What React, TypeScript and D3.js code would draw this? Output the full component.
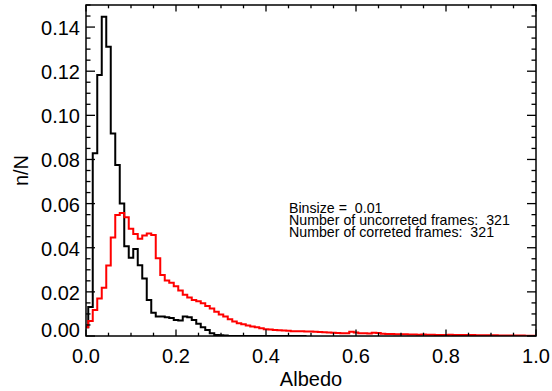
import React from "react";
import * as d3 from "d3";

const binCenters: number[] = d3.range(0, 101).map((k) => k / 100);

const uncorrected: number[] = [
  0.004, 0.0131, 0.0828, 0.1183, 0.1447, 0.1311, 0.0918, 0.0775, 0.0601, 0.0407,
  0.0355, 0.0394, 0.0321, 0.0261, 0.0163, 0.0105, 0.0088, 0.0088, 0.0085, 0.0082,
  0.0072, 0.007, 0.0088, 0.0085, 0.0072, 0.0055, 0.004, 0.0027, 0.0012, 0.0005,
  0.0003, 0.0002, 0, 0, 0, 0, 0, 0, 0, 0,
  0, 0, 0, 0, 0, 0, 0, 0, 0, 0,
];

const corrected: number[] = [
  0.004, 0.0068, 0.0118, 0.017, 0.0219, 0.0319, 0.0446, 0.0548, 0.0557, 0.0538,
  0.0486, 0.0462, 0.0441, 0.0456, 0.0465, 0.0458, 0.0352, 0.0277, 0.0252, 0.0241,
  0.0226, 0.0206, 0.0187, 0.0175, 0.0163, 0.0158, 0.0148, 0.0136, 0.0125, 0.011,
  0.0098, 0.0088, 0.0076, 0.0066, 0.0058, 0.0053, 0.0048, 0.0043, 0.004, 0.0035,
  0.0031, 0.003, 0.0027, 0.0026, 0.0025, 0.0024, 0.0022, 0.0022, 0.0021, 0.002,
  0.002, 0.0019, 0.0018, 0.0017, 0.0016, 0.0015, 0.0014, 0.0013, 0.0012, 0.0019,
  0.0016, 0.0013, 0.0012, 0.0011, 0.0015, 0.0014, 0.001, 0.0009, 0.0009, 0.0008,
  0.0008, 0.0008, 0.0007, 0.0007, 0.0006, 0.0007, 0.0006, 0.0006, 0.0005, 0.0005,
  0.0005, 0.0006, 0.0005, 0.0004, 0.0004, 0.0004, 0.0004, 0.0003, 0.0003, 0.0003,
  0.0003, 0.0003, 0.0002, 0.0002, 0.0002, 0.0002, 0.0002, 0.0002, 0.0001, 0.0001,
  0.0001,
];

const xMajorTicks: number[] = [0, 0.2, 0.4, 0.6, 0.8, 1.0];
const xMinorTicks: number[] = [0.05, 0.1, 0.15, 0.25, 0.3, 0.35, 0.45, 0.5, 0.55, 0.65, 0.7, 0.75, 0.85, 0.9, 0.95];
const yMajorTicks: number[] = [0, 0.02, 0.04, 0.06, 0.08, 0.1, 0.12, 0.14];
const yMinorStep = 0.005;

const annotations: string[] = [
  "Binsize =  0.01",
  "Number of uncorreted frames:  321",
  "Number of correted frames:  321",
];

const W = 552;
const H = 391;
const L = 86, R = 536, T = 5, B = 336;
const FONT = "'Liberation Sans', Arial, Helvetica, sans-serif";

export default function App() {
  const x = d3.scaleLinear().domain([0, 1]).range([L, R]);
  const y = d3.scaleLinear().domain([0, 0.15]).range([B, T]);

  const line = d3
    .line<[number, number]>()
    .x((d) => x(d[0]))
    .y((d) => y(d[1]))
    .curve(d3.curveStep);

  const blackPts: [number, number][] = uncorrected.map((v, i) => [binCenters[i], v]);
  const redPts: [number, number][] = corrected.map((v, i) => [binCenters[i], v]);

  const yMinor: number[] = d3.range(0, 0.1501, yMinorStep).filter(
    (v) => !yMajorTicks.some((m) => Math.abs(m - v) < 1e-9)
  );

  const xMajLen = 0.02 * (B - T);
  const yMajLen = 0.02 * (R - L);

  return (
    <svg width={W} height={H} style={{ position: "absolute", left: 0, top: 0, background: "#fff" }}>
      <defs>
        <clipPath id="plotclip">
          <rect x={L} y={T - 1} width={R - L} height={B - T + 1} />
        </clipPath>
      </defs>
      <g clipPath="url(#plotclip)">
        <path d={line(blackPts) || ""} fill="none" stroke="#000" strokeWidth={2} />
        <path d={line(redPts) || ""} fill="none" stroke="#ff0000" strokeWidth={2} />
      </g>
      <rect x={L} y={T} width={R - L} height={B - T} fill="none" stroke="#000" strokeWidth={1.5} />
      {xMajorTicks.map((t) => (
        <g key={"xm" + t}>
          <line x1={x(t)} x2={x(t)} y1={B} y2={B - xMajLen} stroke="#000" strokeWidth={1.3} />
          <line x1={x(t)} x2={x(t)} y1={T} y2={T + xMajLen} stroke="#000" strokeWidth={1.3} />
          <text x={x(t)} y={363} textAnchor="middle" fontFamily={FONT} fontSize={20}>
            {d3.format(".1f")(t)}
          </text>
        </g>
      ))}
      {xMinorTicks.map((t) => (
        <g key={"xn" + t}>
          <line x1={x(t)} x2={x(t)} y1={B} y2={B - xMajLen / 2} stroke="#000" strokeWidth={1.3} />
          <line x1={x(t)} x2={x(t)} y1={T} y2={T + xMajLen / 2} stroke="#000" strokeWidth={1.3} />
        </g>
      ))}
      {yMajorTicks.map((t) => (
        <g key={"ym" + t}>
          <line x1={L} x2={L + yMajLen} y1={y(t)} y2={y(t)} stroke="#000" strokeWidth={1.3} />
          <line x1={R} x2={R - yMajLen} y1={y(t)} y2={y(t)} stroke="#000" strokeWidth={1.3} />
          <text x={80} y={t === 0 ? 337 : y(t) + 8} textAnchor="end" fontFamily={FONT} fontSize={20}>
            {d3.format(".2f")(t)}
          </text>
        </g>
      ))}
      {yMinor.map((t) => (
        <g key={"yn" + t}>
          <line x1={L} x2={L + yMajLen / 2} y1={y(t)} y2={y(t)} stroke="#000" strokeWidth={1.3} />
          <line x1={R} x2={R - yMajLen / 2} y1={y(t)} y2={y(t)} stroke="#000" strokeWidth={1.3} />
        </g>
      ))}
      <text x={(L + R) / 2} y={386} textAnchor="middle" fontFamily={FONT} fontSize={20}>
        Albedo
      </text>
      <text
        transform={`translate(28, ${(T + B) / 2}) rotate(-90)`}
        textAnchor="middle"
        fontFamily={FONT}
        fontSize={20}
      >
        n/N
      </text>
      {annotations.map((s, i) => (
        <text
          key={s}
          x={289}
          y={212.5 + i * 12}
          fontFamily={FONT}
          fontSize={14.2}
          xmlSpace="preserve"
          style={{ whiteSpace: "pre" }}
        >
          {s}
        </text>
      ))}
    </svg>
  );
}
